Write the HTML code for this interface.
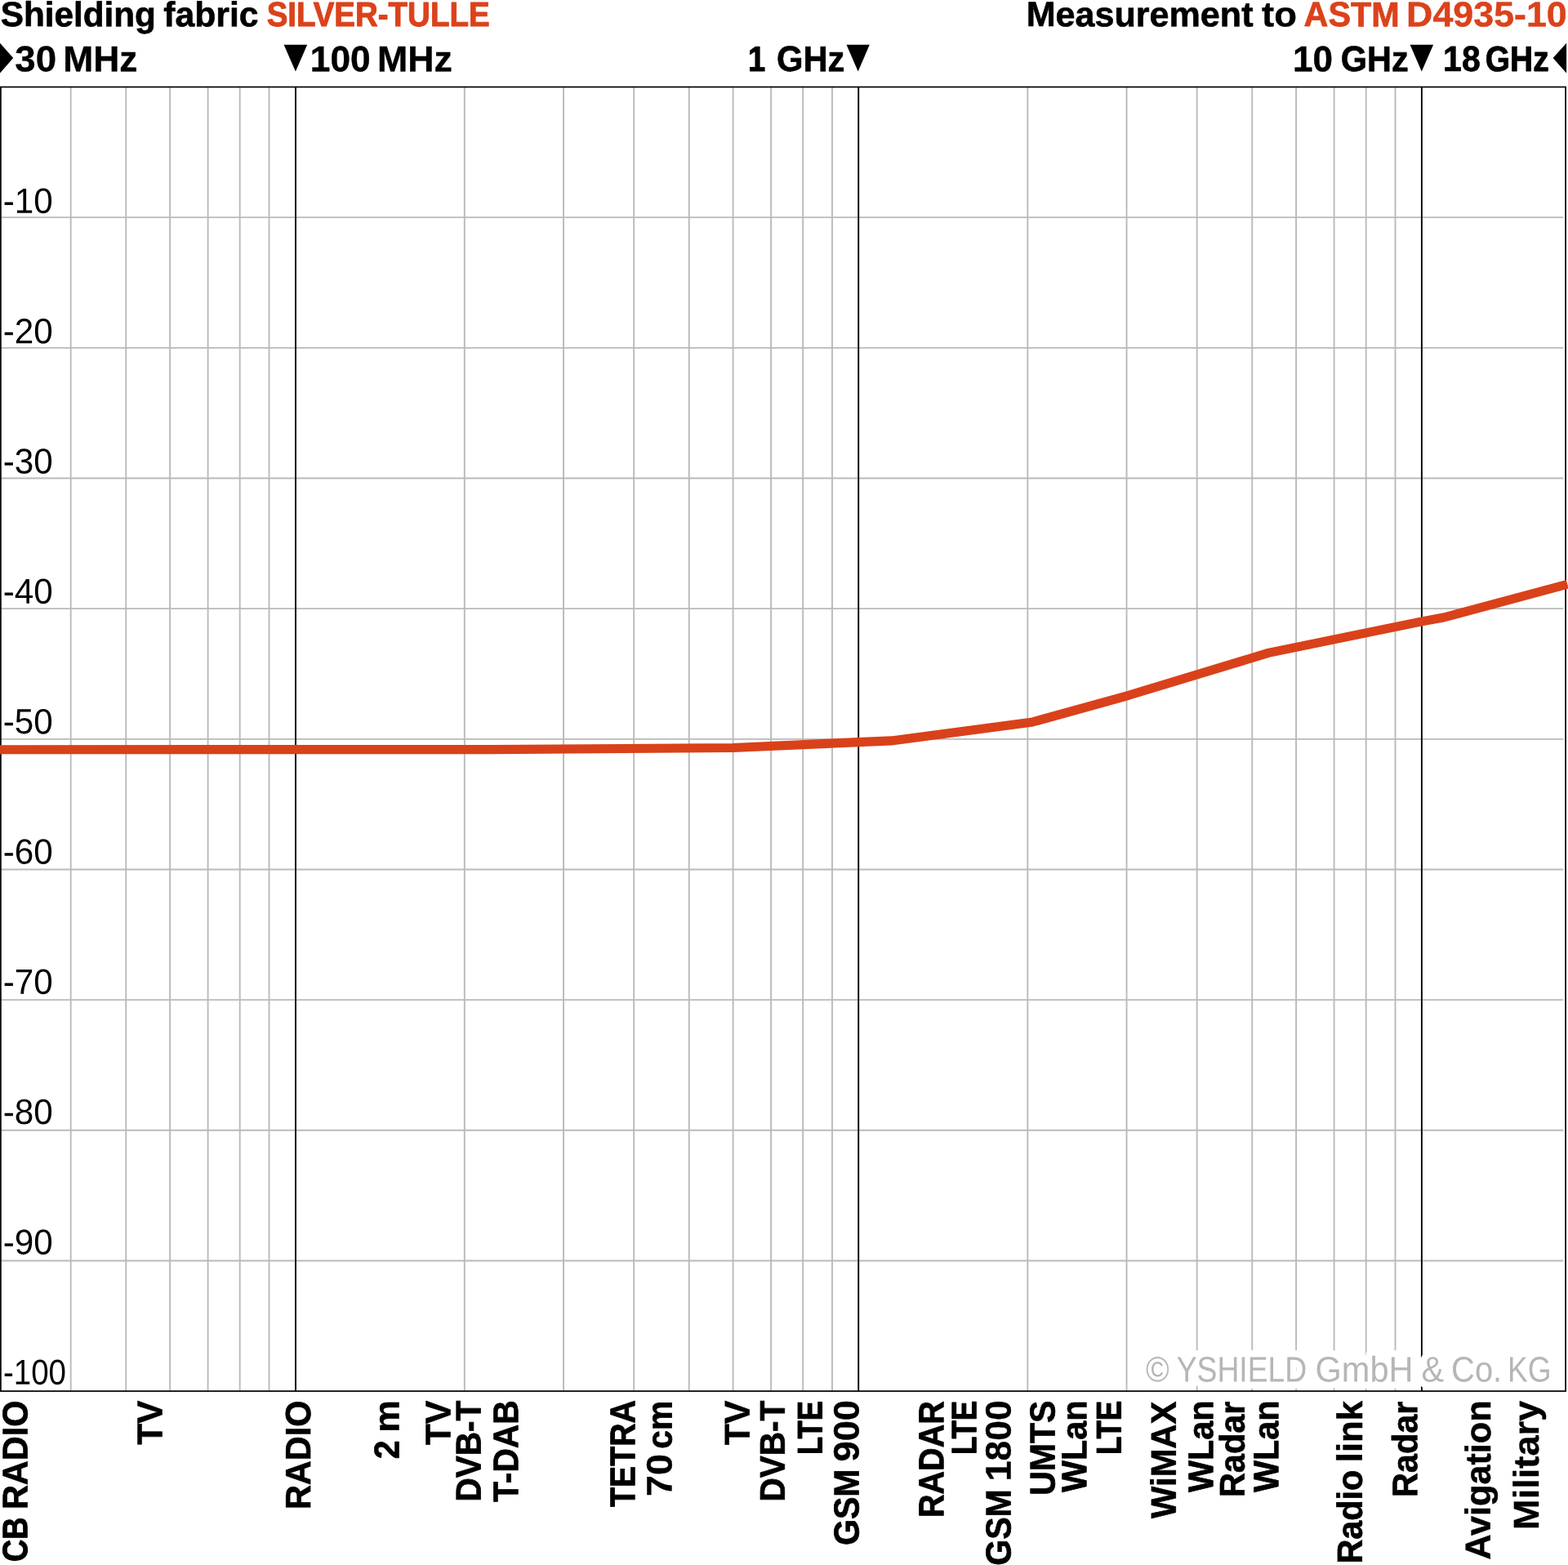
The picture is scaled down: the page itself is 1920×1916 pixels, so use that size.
<!DOCTYPE html>
<html lang="en"><head><meta charset="utf-8"><title>Shielding fabric SILVER-TULLE</title>
<style>html,body{margin:0;padding:0;background:#fff;overflow:hidden}svg{display:block}text{white-space:pre}</style></head>
<body><svg width="1920" height="1916" viewBox="0 0 1920 1916">
<rect width="1920" height="1916" fill="#fff"/>
<g stroke="#bababa" stroke-width="1.9" fill="none">
<line x1="86.67" y1="106.5" x2="86.67" y2="1703.15"/>
<line x1="154.24" y1="106.5" x2="154.24" y2="1703.15"/>
<line x1="208.09" y1="106.5" x2="208.09" y2="1703.15"/>
<line x1="254.6" y1="106.5" x2="254.6" y2="1703.15"/>
<line x1="293.68" y1="106.5" x2="293.68" y2="1703.15"/>
<line x1="329.5" y1="106.5" x2="329.5" y2="1703.15"/>
<line x1="568.81" y1="106.5" x2="568.81" y2="1703.15"/>
<line x1="690.03" y1="106.5" x2="690.03" y2="1703.15"/>
<line x1="776.17" y1="106.5" x2="776.17" y2="1703.15"/>
<line x1="843.74" y1="106.5" x2="843.74" y2="1703.15"/>
<line x1="897.59" y1="106.5" x2="897.59" y2="1703.15"/>
<line x1="944.1" y1="106.5" x2="944.1" y2="1703.15"/>
<line x1="983.18" y1="106.5" x2="983.18" y2="1703.15"/>
<line x1="1019" y1="106.5" x2="1019" y2="1703.15"/>
<line x1="1258.31" y1="106.5" x2="1258.31" y2="1703.15"/>
<line x1="1379.53" y1="106.5" x2="1379.53" y2="1703.15"/>
<line x1="1465.67" y1="106.5" x2="1465.67" y2="1703.15"/>
<line x1="1533.24" y1="106.5" x2="1533.24" y2="1703.15"/>
<line x1="1587.09" y1="106.5" x2="1587.09" y2="1703.15"/>
<line x1="1633.6" y1="106.5" x2="1633.6" y2="1703.15"/>
<line x1="1672.68" y1="106.5" x2="1672.68" y2="1703.15"/>
<line x1="1708.5" y1="106.5" x2="1708.5" y2="1703.15"/>
<line x1="0.9" y1="266.17" x2="1914.3" y2="266.17"/>
<line x1="0.9" y1="425.83" x2="1914.3" y2="425.83"/>
<line x1="0.9" y1="585.5" x2="1914.3" y2="585.5"/>
<line x1="0.9" y1="745.16" x2="1914.3" y2="745.16"/>
<line x1="0.9" y1="904.83" x2="1914.3" y2="904.83"/>
<line x1="0.9" y1="1064.49" x2="1914.3" y2="1064.49"/>
<line x1="0.9" y1="1224.16" x2="1914.3" y2="1224.16"/>
<line x1="0.9" y1="1383.82" x2="1914.3" y2="1383.82"/>
<line x1="0.9" y1="1543.49" x2="1914.3" y2="1543.49"/>
</g>
<g stroke="#000" stroke-width="1.9" fill="none"><line x1="362" y1="106.5" x2="362" y2="1703.15"/><line x1="1051.2" y1="106.5" x2="1051.2" y2="1703.15"/><line x1="1740.9" y1="106.5" x2="1740.9" y2="1703.15"/></g>
<rect x="0.9" y="106.5" width="1916.2" height="1596.65" fill="none" stroke="#000" stroke-width="1.7"/>
<polyline points="-2,917.7 600,917.6 897.5,915.5 1051,908.6 1091.25,906.9 1264.5,883.9 1382,851.3 1553,799.4 1741,760.9 1767.5,756 1919.3,715.25" fill="none" stroke="#d9411a" stroke-width="11.1" stroke-linejoin="round"/>
<g fill="#000"><polygon points="0,52.7 16.2,71 0,89.4"/><polygon points="347.6,54.8 376.2,54.8 361.9,87.4"/><polygon points="1036.5,54.8 1064.8,54.8 1050.7,87.4"/><polygon points="1726.6,54.8 1755.1,54.8 1740.8,87.4"/><polygon points="1918.1,52.7 1918.1,89.4 1901.6,71"/></g>
<g font-family="'Liberation Sans', sans-serif" font-size="100" stroke-linejoin="round">
<g font-weight="bold" fill="#000" stroke="#000"><text transform="matrix(0.42253 0.0003 0 0.42625 0.83213 32.09614)" stroke-width="1.581">Shielding</text> <text transform="matrix(0.42732 0.0003 0 0.42684 200.23302 32.14269)" stroke-width="1.484">fabric</text></g>
<text font-weight="bold" fill="#db421b" stroke="#db421b" transform="matrix(0.38485 0.0003 0 0.42159 326.66359 31.89663)" stroke-width="2.358">SILVER-TULLE</text>
<g font-weight="bold" fill="#000" stroke="#000"><text transform="matrix(0.43116 0.0003 0 0.42731 1256.66684 32.10209)" stroke-width="1.406">Measurement</text> <text transform="matrix(0.45372 0.0003 0 0.43007 1545.11175 32.28067)" stroke-width="0.956">to</text></g>
<g font-weight="bold" fill="#db421b" stroke="#db421b"><text transform="matrix(0.41388 0.0003 0 0.42518 1596.50357 32.08443)" stroke-width="1.758">ASTM</text> <text transform="matrix(0.44795 0.0003 0 0.42937 1722.09099 32.20402)" stroke-width="1.07">D4935-10</text></g>
<g font-weight="bold" fill="#000" stroke="#000"><text transform="matrix(0.45662 0.0003 0 0.44253 18.2484 87.27656)" stroke-width="0.8">30</text> <text transform="matrix(0.44352 0.0003 0 0.44143 77.29671 87.22406)" stroke-width="0.973">MHz</text></g>
<g font-weight="bold" fill="#000" stroke="#000"><text transform="matrix(0.4427 0.0003 0 0.44134 379.7797 87.22661)" stroke-width="0.988">100</text> <text transform="matrix(0.44671 0.0003 0 0.44182 462.06334 87.23725)" stroke-width="0.912">MHz</text></g>
<g font-weight="bold" fill="#000" stroke="#000"><text transform="matrix(0.38202 0.0003 0 0.43403 915.90613 86.99165)" stroke-width="2.163">1</text> <text transform="matrix(0.41758 0.0003 0 0.43831 950.93825 87.1178)" stroke-width="1.47">GHz</text></g>
<g font-weight="bold" fill="#000" stroke="#000"><text transform="matrix(0.43974 0.0003 0 0.44098 1583.00922 87.22273)" stroke-width="1.044">10</text> <text transform="matrix(0.41435 0.0003 0 0.43792 1641.76214 87.10439)" stroke-width="1.532">GHz</text></g>
<g font-weight="bold" fill="#000" stroke="#000"><text transform="matrix(0.41082 0.0003 0 0.43749 1767.0907 87.10262)" stroke-width="1.601">18</text> <text transform="matrix(0.39018 0.0003 0 0.43501 1818.63501 87.00414)" stroke-width="2.004">GHz</text></g>
<g font-weight="normal" fill="#b6b6b6" stroke="#fff" stroke-width="39" paint-order="stroke"><text transform="matrix(0.3904 0.0003 0 0.4375 1403.00292 1691.48896)">©</text> <text transform="matrix(0.3731 0.0003 0 0.4375 1440.66554 1691.43617)">YSHIELD</text> <text transform="matrix(0.41496 0.0003 0 0.4375 1610.59206 1691.45712)">GmbH</text> <text transform="matrix(0.41496 0.0003 0 0.4375 1740.55233 1691.4897)">&amp;</text> <text transform="matrix(0.39876 0.0003 0 0.4375 1777.11943 1691.47726)">Co.</text> <text transform="matrix(0.37019 0.0003 0 0.4375 1846.11082 1691.47821)">KG</text></g>
<text font-weight="normal" fill="#000" transform="matrix(0.42238 0.0003 0 0.43314 3.77248 260.78825)">-10</text>
<text font-weight="normal" fill="#000" transform="matrix(0.42238 0.0003 0 0.43314 3.77248 420.11825)">-20</text>
<text font-weight="normal" fill="#000" transform="matrix(0.42238 0.0003 0 0.43314 3.77248 579.44825)">-30</text>
<text font-weight="normal" fill="#000" transform="matrix(0.42238 0.0003 0 0.43314 3.77248 738.77825)">-40</text>
<text font-weight="normal" fill="#000" transform="matrix(0.42238 0.0003 0 0.43314 3.77248 898.10825)">-50</text>
<text font-weight="normal" fill="#000" transform="matrix(0.42238 0.0003 0 0.43314 3.77248 1057.43825)">-60</text>
<text font-weight="normal" fill="#000" transform="matrix(0.42238 0.0003 0 0.43314 3.77248 1216.76825)">-70</text>
<text font-weight="normal" fill="#000" transform="matrix(0.42238 0.0003 0 0.43314 3.77248 1376.09825)">-80</text>
<text font-weight="normal" fill="#000" transform="matrix(0.42238 0.0003 0 0.43314 3.77248 1535.42825)">-90</text>
<text font-weight="normal" fill="#000" transform="matrix(0.38539 0.0003 0 0.43314 3.93691 1694.7499)">-100</text>
<g font-weight="bold" fill="#000" stroke="#000"><text transform="matrix(0.0003 -0.37826 0.42877 0 33.27805 1911.98824)" stroke-width="2.334">CB</text> <text transform="matrix(0.0003 -0.41489 0.43322 0 33.40416 1848.09487)" stroke-width="1.603">RADIO</text></g>
<text font-weight="bold" fill="#000" stroke="#000" transform="matrix(0.0003 -0.42448 0.43439 0 198.57377 1768.83107)" stroke-width="1.414">TV</text>
<text font-weight="bold" fill="#000" stroke="#000" transform="matrix(0.0003 -0.41489 0.43322 0 379.90416 1848.09487)" stroke-width="1.603">RADIO</text>
<g font-weight="bold" fill="#000" stroke="#000"><text transform="matrix(0.0003 -0.41277 0.43296 0 488.4357 1786.24231)" stroke-width="1.645">2</text> <text transform="matrix(0.0003 -0.44481 0.43685 0 488.56439 1753.86909)" stroke-width="1.017">m</text></g>
<text font-weight="bold" fill="#000" stroke="#000" transform="matrix(0.0003 -0.42658 0.43464 0 551.58255 1769.34077)" stroke-width="1.372">TV</text>
<text font-weight="bold" fill="#000" stroke="#000" transform="matrix(0.0003 -0.40504 0.43202 0 588.46492 1838.49722)" stroke-width="1.798">DVB-T</text>
<text font-weight="bold" fill="#000" stroke="#000" transform="matrix(0.0003 -0.40727 0.43229 0 634.2256 1838.75442)" stroke-width="1.754">T-DAB</text>
<text font-weight="bold" fill="#000" stroke="#000" transform="matrix(0.0003 -0.39231 0.43047 0 777.15851 1844.94205)" stroke-width="2.052">TETRA</text>
<g font-weight="bold" fill="#000" stroke="#000"><text transform="matrix(0.0003 -0.46635 0.43822 0 822.608 1831.9836)" stroke-width="0.8">70</text> <text transform="matrix(0.0003 -0.40602 0.43214 0 822.39434 1773.62796)" stroke-width="1.779">cm</text></g>
<text font-weight="bold" fill="#000" stroke="#000" transform="matrix(0.0003 -0.42658 0.43464 0 917.83255 1769.34077)" stroke-width="1.372">TV</text>
<text font-weight="bold" fill="#000" stroke="#000" transform="matrix(0.0003 -0.40504 0.43202 0 960.71492 1838.49722)" stroke-width="1.798">DVB-T</text>
<text font-weight="bold" fill="#000" stroke="#000" transform="matrix(0.0003 -0.36253 0.42688 0 1006.45692 1780.89661)" stroke-width="2.649">LTE</text>
<g font-weight="bold" fill="#000" stroke="#000"><text transform="matrix(0.0003 -0.41112 0.43276 0 1051.40327 1891.99724)" stroke-width="1.677">GSM</text> <text transform="matrix(0.0003 -0.45206 0.43773 0 1051.58291 1789.42313)" stroke-width="0.878">900</text></g>
<text font-weight="bold" fill="#000" stroke="#000" transform="matrix(0.0003 -0.39487 0.43078 0 1155.16419 1857.89827)" stroke-width="2.001">RADAR</text>
<text font-weight="bold" fill="#000" stroke="#000" transform="matrix(0.0003 -0.36494 0.42716 0 1195.31683 1781.11833)" stroke-width="2.601">LTE</text>
<g font-weight="bold" fill="#000" stroke="#000"><text transform="matrix(0.0003 -0.41112 0.43276 0 1237.40327 1916.79724)" stroke-width="1.677">GSM</text> <text transform="matrix(0.0003 -0.44488 0.43686 0 1237.54438 1813.22677)" stroke-width="1.016">1800</text></g>
<text font-weight="bold" fill="#000" stroke="#000" transform="matrix(0.0003 -0.41004 0.43263 0 1291.38971 1830.76194)" stroke-width="1.699">UMTS</text>
<text font-weight="bold" fill="#000" stroke="#000" transform="matrix(0.0003 -0.41237 0.43292 0 1330.25237 1826.88123)" stroke-width="1.653">WLan</text>
<text font-weight="bold" fill="#000" stroke="#000" transform="matrix(0.0003 -0.36494 0.42716 0 1372.56683 1781.11833)" stroke-width="2.601">LTE</text>
<text font-weight="bold" fill="#000" stroke="#000" transform="matrix(0.0003 -0.41682 0.43346 0 1439.75956 1858.8967)" stroke-width="1.564">WiMAX</text>
<text font-weight="bold" fill="#000" stroke="#000" transform="matrix(0.0003 -0.41237 0.43292 0 1485.25237 1826.88123)" stroke-width="1.653">WLan</text>
<text font-weight="bold" fill="#000" stroke="#000" transform="matrix(0.0003 -0.41473 0.4332 0 1523.75889 1833.09325)" stroke-width="1.606">Radar</text>
<text font-weight="bold" fill="#000" stroke="#000" transform="matrix(0.0003 -0.41237 0.43292 0 1565.25237 1826.88123)" stroke-width="1.653">WLan</text>
<g font-weight="bold" fill="#000" stroke="#000"><text transform="matrix(0.0003 -0.414 0.43311 0 1667.75705 1914.58602)" stroke-width="1.62">Radio</text> <text transform="matrix(0.0003 -0.43623 0.43582 0 1667.86519 1790.1954)" stroke-width="1.184">link</text></g>
<text font-weight="bold" fill="#000" stroke="#000" transform="matrix(0.0003 -0.41473 0.4332 0 1735.25889 1833.09325)" stroke-width="1.606">Radar</text>
<text font-weight="bold" fill="#000" stroke="#000" transform="matrix(0.0003 -0.43177 0.43528 0 1824.80622 1909.53385)" stroke-width="1.271">Avigation</text>
<text font-weight="bold" fill="#000" stroke="#000" transform="matrix(0.0003 -0.45203 0.43772 0 1883.9043 1872.97734)" stroke-width="0.879">Military</text>
</g>
</svg></body></html>
